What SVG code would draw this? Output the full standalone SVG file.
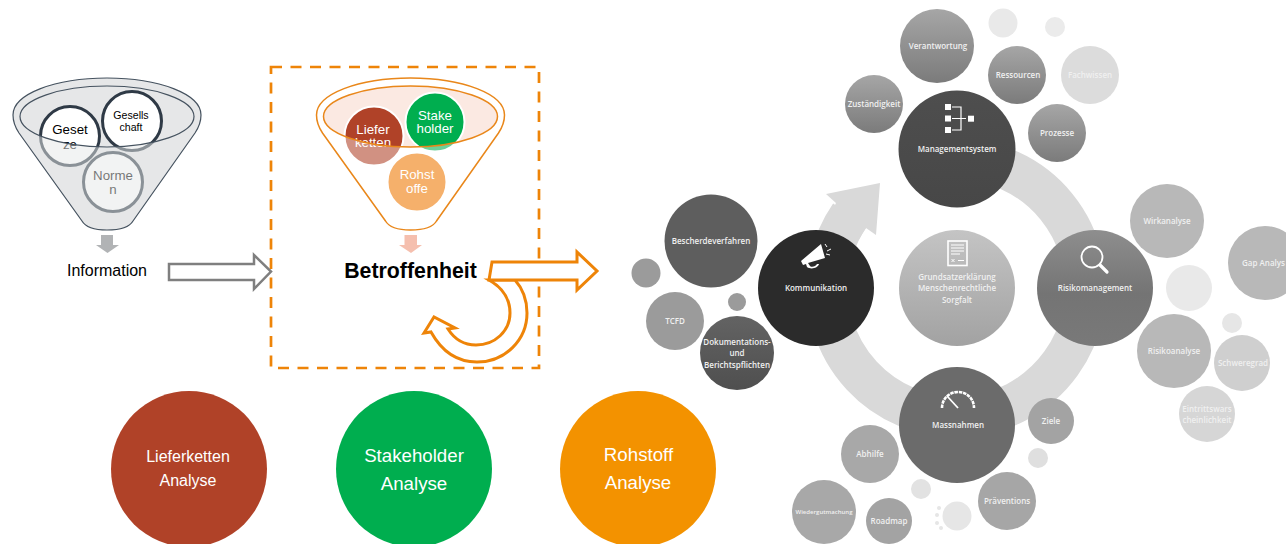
<svg xmlns="http://www.w3.org/2000/svg" width="1286" height="544" viewBox="0 0 1286 544">
<style>
text{font-family:"Liberation Sans",Arial,sans-serif;text-anchor:middle}
.s{font-family:"Open Sans","Liberation Sans",sans-serif;font-size:8px;font-weight:600;fill:#f0f0f0}
.wh{fill:#fff}
.ic{fill:none;stroke:#fff;stroke-width:1.6}
.if{fill:#fff}
.o{fill:#fff;stroke:#ee8408;stroke-width:3}
.c1{fill:#fff;stroke:#2f3a46;stroke-width:3}
.c2{stroke:#fff;stroke-width:2}
.f2{stroke:#e9871a;stroke-width:1.5}
.f1{stroke:#45525f;stroke-width:1.2}
</style>
<defs>
<linearGradient id="gM" x1="0" y1="0" x2="0" y2="1"><stop offset="0" stop-color="#4e4e4e"/><stop offset="1" stop-color="#474747"/></linearGradient>
<linearGradient id="gR" x1="0" y1="0" x2="0" y2="1"><stop offset="0" stop-color="#8e8e8e"/><stop offset=".55" stop-color="#747474"/><stop offset="1" stop-color="#797979"/></linearGradient>
<linearGradient id="gC" x1="0" y1="0" x2="0" y2="1"><stop offset="0" stop-color="#c4c4c4"/><stop offset="1" stop-color="#a2a2a2"/></linearGradient>
<linearGradient id="gV" x1="0" y1="0" x2="0" y2="1"><stop offset="0" stop-color="#a6a6a6"/><stop offset="1" stop-color="#7b7b7b"/></linearGradient>
<linearGradient id="gD" x1="0" y1="0" x2="0" y2="1"><stop offset="0" stop-color="#636363"/><stop offset="1" stop-color="#4f4f4f"/></linearGradient>
<path id="fb" fill-rule="evenodd" d="M13 115C13 94 55 78 107 78S201 94 201 115C201 121 199 127 195 133L133 221C129 228 118 230 107 230S86 228 82 221L19 133C15 127 13 121 13 115ZM20 116.500C20 133 59 147 107 147S194 133 194 116.500 155 86 107 86 20 100 20 116.500Z"/>
</defs>

<g id="ring">
<path d="M957 159A129 129 0 1 1 850 215" fill="none" stroke="#d9d9d9" stroke-width="41"/>
<polygon points="880,183 826,194 836,203 818,240 852,250 866,228 876,235" fill="#d9d9d9"/>
</g>

<g id="funnel-information">
<use href="#fb" fill="#e6e7e8"/>
<ellipse cx="107" cy="116.500" rx="87" ry="30.500" fill="#e6e7e8"/>
<g id="gesetze"><circle class="c1" cx="70" cy="136" r="29.500"/><text x="70" y="134" font-size="13.300">Geset</text><text x="70" y="149" font-size="13.300">ze</text></g>
<g id="gesellschaft"><circle class="c1" cx="132" cy="121" r="29.500"/><text x="131" y="119" font-size="10.600">Gesells</text><text x="131" y="131" font-size="10.600">chaft</text></g>
<g id="normen"><circle class="c1" cx="113" cy="182" r="29.500"/><text x="113" y="180" font-size="13.300">Norme</text><text x="113" y="194" font-size="13.300">n</text></g>
<use href="#fb" fill="#e6e7e8" fill-opacity=".5" class="f1"/>
<polygon points="101,235 113,235 113,245 119,245 107.500,253 96,245 101,245" fill="#b1b3b5"/>
<text x="107" y="276" font-size="16">Information</text>
</g>

<rect id="scope" x="271" y="67" width="268" height="301" fill="none" stroke="#ee8408" stroke-width="2.700" stroke-dasharray="11 8.500"/>

<g id="funnel-betroffenheit">
<ellipse cx="410.500" cy="116.500" rx="87" ry="30.500" fill="#fbe9e2"/>
<g id="lieferketten"><circle class="c2" cx="374" cy="136" r="29.500" fill="#b04228"/><text class="wh" x="373" y="134" font-size="13.300">Liefer</text><text class="wh" x="373" y="147" font-size="13.300">ketten</text></g>
<g id="stakeholder"><circle class="c2" cx="435" cy="122" r="29.500" fill="#00ae4f"/><text class="wh" x="435" y="120" font-size="13.300">Stake</text><text class="wh" x="435" y="133" font-size="13.300">holder</text></g>
<g id="rohstoffe"><circle class="c2" cx="417" cy="182" r="29.500" fill="#ee7700"/><text class="wh" x="417" y="179" font-size="13.300">Rohst</text><text class="wh" x="417" y="193" font-size="13.300">offe</text></g>
<use href="#fb" x="303.500" fill="#fff" fill-opacity=".42" class="f2"/>
<polygon points="404.500,235 417,235 417,245 422,245 411,253 399,245 404.500,245" fill="#f5bfae"/>
<text x="410.500" y="278" font-size="21.300" font-weight="700">Betroffenheit</text>
</g>

<g id="connectors">
<polygon points="169,264 254,264 254,255 271,271.500 254,289 254,280 169,280" fill="#fff" stroke="#7f7f7f" stroke-width="2.500"/>
<path class="o" d="M515 280C524 290 527 301 527 313C527 340 505 362 477 362C456 362 441 350 431 332L424 333L434 317L455 328L448 329C455 340 465 345 476 345C495 345 510 331 510 313C510 300 503 288 489 280Z"/>
<polygon class="o" points="492,262 577,262 577,252 597,271 577,290 577,280 489,280"/>
</g>

<g id="analyse-nodes">
<g id="lieferketten-analyse"><circle cx="189" cy="469" r="78" fill="#b04228"/><text class="wh" x="188" y="462" font-size="16">Lieferketten</text><text class="wh" x="188" y="486" font-size="16">Analyse</text></g>
<g id="stakeholder-analyse"><circle cx="414" cy="469" r="78" fill="#00ae4f"/><text class="wh" x="414" y="462" font-size="18.700">Stakeholder</text><text class="wh" x="414" y="490" font-size="18.700">Analyse</text></g>
<g id="rohstoff-analyse"><circle cx="638" cy="469" r="78" fill="#f39200"/><text class="wh" x="638.500" y="461" font-size="18.700">Rohstoff</text><text class="wh" x="638" y="489" font-size="18.700">Analyse</text></g>
</g>

<g id="deco">
<circle cx="1003" cy="23" r="14.500" fill="#e9e9e9"/><circle cx="1055" cy="27" r="10" fill="#ebebeb"/>
<circle cx="1189" cy="288" r="23" fill="#e9e9e9"/><circle cx="1232" cy="323" r="10" fill="#e6e6e6"/>
<circle cx="1038" cy="458" r="10" fill="#dfdfdf"/><circle cx="921" cy="489" r="10" fill="#e2e2e2"/>
<circle cx="957" cy="516" r="14.500" fill="#e6e6e6"/>
<circle cx="939" cy="508" r="2" fill="#e6e6e6"/><circle cx="937" cy="515" r="2" fill="#e6e6e6"/><circle cx="937" cy="523" r="2" fill="#e6e6e6"/><circle cx="941" cy="528" r="2" fill="#e6e6e6"/>
<circle cx="646" cy="273" r="14.500" fill="#9b9b9b"/><circle cx="737" cy="302" r="9" fill="#9b9b9b"/>
</g>

<g id="verantwortung"><circle cx="937" cy="46" r="37" fill="url(#gV)"/><text class="s" x="938" y="49">Verantwortung</text></g>
<g id="zustaendigkeit"><circle cx="874" cy="104" r="29" fill="url(#gV)"/><text class="s" x="874" y="107">Zuständigkeit</text></g>
<g id="ressourcen"><circle cx="1017" cy="75" r="29" fill="url(#gV)"/><text class="s" x="1018" y="78">Ressourcen</text></g>
<g id="fachwissen"><circle cx="1090" cy="75" r="29" fill="#dcdcdc"/><text class="s" x="1090" y="78">Fachwissen</text></g>
<g id="prozesse"><circle cx="1057" cy="133" r="29" fill="url(#gV)"/><text class="s" x="1057" y="136">Prozesse</text></g>
<g id="managementsystem"><circle cx="957" cy="149" r="58.500" fill="url(#gM)"/>
<g class="if"><rect x="945" y="104" width="6" height="6"/><rect x="945" y="115.500" width="6" height="6"/><rect x="945" y="127" width="6" height="6"/><rect x="968" y="115.700" width="6" height="6"/></g>
<path class="ic" style="stroke-width:1.200" d="M952 107H961V130H952M952 118.500H966"/>
<text class="s" x="957" y="152">Managementsystem</text></g>

<g id="bescherdeverfahren"><circle cx="711" cy="241" r="46.500" fill="#5e5e5e"/><text class="s" x="711" y="244">Bescherdeverfahren</text></g>
<g id="tcfd"><circle cx="675" cy="321" r="29" fill="#9b9b9b"/><text class="s" x="675" y="324">TCFD</text></g>
<g id="dokumentation"><circle cx="737" cy="353" r="37" fill="url(#gD)"/><text class="s" x="737" y="345">Dokumentations-</text><text class="s" x="737" y="356">und</text><text class="s" x="737" y="368">Berichtspflichten</text></g>
<g id="kommunikation"><circle cx="816" cy="288" r="58" fill="#2b2b2b"/>
<path class="if" d="M801 261L821 244L825 258L808 263L810 266C812 268 816 266 817 264L819 264C818 268 811 270 807 267L806 264L803 265Z"/>
<path class="ic" style="stroke-width:1" d="M825 244L827 247M831 249L827 251M830 255L826 254"/>
<text class="s" x="816" y="291">Kommunikation</text></g>
<g id="grundsatz"><circle cx="957" cy="288" r="58" fill="url(#gC)"/>
<rect class="ic" x="948" y="241" width="19" height="24.500"/>
<path class="ic" style="stroke-width:1" d="M951 245H964M951 248H964M951 251H964M951 254H960M958 260.500H964M951.500 259L954.500 262M954.500 259L951.500 262"/>
<text class="s" x="957" y="280">Grundsatzerklärung</text><text class="s" x="957" y="291">Menschenrechtliche</text><text class="s" x="957" y="303">Sorgfalt</text></g>
<g id="risikomanagement"><circle cx="1095" cy="288" r="58" fill="url(#gR)"/>
<circle class="ic" cx="1092" cy="257" r="10.500" style="stroke-width:1.800"/><path class="ic" d="M1100 265L1107 272" style="stroke-width:3.200;stroke-linecap:round"/>
<text class="s" x="1095" y="291">Risikomanagement</text></g>
<g id="massnahmen"><circle cx="957" cy="425" r="58" fill="#6b6b6b"/>
<path class="ic" d="M942 408C942 399 949 392 958 392S974 399 974 408" style="stroke-width:2.600;stroke-dasharray:3.500 .8"/>
<path class="ic" d="M947 396L958 408" style="stroke-width:1.800"/>
<text class="s" x="958" y="428">Massnahmen</text></g>

<g id="wirkanalyse"><circle cx="1167" cy="221" r="37" fill="#b8b8b8"/><text class="s" x="1167" y="224">Wirkanalyse</text></g>
<g id="gap-analyse"><circle cx="1265" cy="263" r="37" fill="#b8b8b8"/><text class="s" x="1242" y="266" style="text-anchor:start">Gap Analys</text></g>
<g id="risikoanalyse"><circle cx="1174" cy="351" r="37" fill="#b8b8b8"/><text class="s" x="1174" y="354">Risikoanalyse</text></g>
<g id="schweregrad"><circle cx="1242" cy="363" r="28" fill="#cfcfcf"/><text class="s" x="1243" y="366">Schweregrad</text></g>
<g id="eintritt"><circle cx="1207" cy="414" r="28" fill="#d6d6d6"/><text class="s" x="1207" y="412">Eintrittswars</text><text class="s" x="1207" y="423">cheinlichkeit</text></g>
<g id="ziele"><circle cx="1051" cy="421" r="23" fill="#a3a3a3"/><text class="s" x="1051" y="424">Ziele</text></g>
<g id="praevention"><circle cx="1007" cy="501" r="29" fill="#a6a6a6"/><text class="s" x="1007" y="504">Präventions</text></g>
<g id="abhilfe"><circle cx="870" cy="454" r="29" fill="#a8a8a8"/><text class="s" x="870" y="457">Abhilfe</text></g>
<g id="wiedergutmachung"><circle cx="824" cy="512" r="32" fill="#a8a8a8"/><text class="s" x="824" y="514" style="font-size:6px">Wiedergutmachung</text></g>
<g id="roadmap"><circle cx="889" cy="521" r="23" fill="#a3a3a3"/><text class="s" x="889" y="524">Roadmap</text></g>
</svg>
